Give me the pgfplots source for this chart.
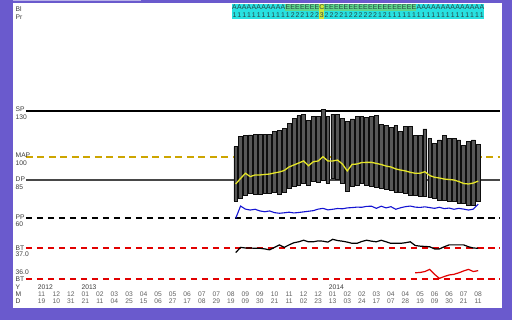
\documentclass[border=0pt]{standalone}
\usepackage{pgfplots}
\pgfplotsset{compat=1.18}
\usepackage{pgfplotstable}
\usepackage{fontspec}
\setmainfont{Liberation Sans}
\definecolor{frame}{RGB}{106,90,205}
\definecolor{frametop}{RGB}{185,178,232}
\definecolor{cellA}{RGB}{40,225,225}
\definecolor{cellE}{RGB}{95,215,140}
\definecolor{cellC}{RGB}{205,230,60}
\definecolor{mapgold}{RGB}{205,165,0}
\definecolor{mapline}{RGB}{228,228,40}
\definecolor{ppblue}{RGB}{20,20,210}
\definecolor{btred}{RGB}{225,0,0}
\definecolor{lbl}{RGB}{60,60,60}
\definecolor{celltxt}{RGB}{40,70,70}

\pgfplotstableread{
x low high
40 71.3 106.7
41 73.1 113.2
42 74.8 113.9
43 76.3 114.4
44 75.7 114.8
45 75.7 114.8
46 76.3 114.8
47 76.3 114.8
48 77.0 116.5
49 75.7 117.6
50 77.0 118.7
51 79.6 122.0
52 80.6 125.2
53 81.7 126.9
54 82.8 127.9
55 81.7 124.1
56 84.3 126.3
57 83.5 126.3
58 85.0 131.3
59 82.8 126.3
60 86.1 127.9
61 85.5 127.9
62 82.8 125.2
63 77.8 123.0
64 80.6 124.8
65 81.7 126.3
66 82.8 126.3
67 81.5 125.6
68 81.0 126.3
69 80.0 126.9
70 79.6 121.3
71 79.0 120.4
72 78.0 119.1
73 77.0 120.4
74 77.0 116.5
75 76.3 119.8
76 75.2 119.8
77 75.2 113.9
78 74.1 113.9
79 74.1 118.3
80 73.5 112.2
81 73.1 108.9
82 72.0 111.1
83 72.0 113.9
84 71.3 112.2
85 70.8 112.2
86 70.0 111.1
87 70.0 107.8
88 68.7 110.4
89 68.7 111.1
90 70.8 108.3
}\bars

\pgfplotstableread{
x map pp bt
40 82.4 60.0 36.85
41 86.0 68.0 37.02
42 89.4 66.0 37.00
43 87.2 65.4 37.00
44 88.3 65.9 36.99
45 88.3 64.8 36.99
46 88.6 64.3 36.97
47 88.9 64.8 36.94
48 89.6 63.7 37.02
49 90.2 63.3 37.10
50 91.2 63.6 37.02
51 93.5 64.0 37.10
52 94.8 63.5 37.17
53 96.1 63.8 37.20
54 97.4 64.2 37.25
55 94.3 64.6 37.20
56 96.9 65.0 37.20
57 97.4 66.0 37.23
58 100.2 66.5 37.22
59 97.4 65.5 37.19
60 97.4 65.9 37.28
61 98.0 66.4 37.24
62 95.4 66.2 37.22
63 90.9 66.8 37.19
64 95.2 67.0 37.15
65 95.4 67.3 37.15
66 96.4 67.2 37.21
67 96.5 67.8 37.25
68 96.5 67.9 37.22
69 95.8 66.5 37.20
70 95.1 67.9 37.25
71 94.1 66.8 37.20
72 93.5 67.6 37.15
73 92.2 65.9 37.15
74 91.5 66.9 37.15
75 90.9 67.6 37.17
76 90.0 68.0 37.20
77 89.4 67.3 37.08
78 89.4 67.1 37.06
79 90.4 67.5 37.05
80 87.9 67.0 37.04
81 86.8 66.5 36.97
82 86.3 67.2 36.97
83 85.6 66.3 37.04
84 85.3 66.7 37.10
85 85.0 65.9 37.10
86 84.0 66.5 37.10
87 82.7 66.0 37.10
88 82.4 65.4 37.04
89 83.0 66.0 37.00
90 84.3 69.3 36.99
}\lines

\pgfplotstableread{
x bt
77 36.20
78 36.21
79 36.24
80 36.31
81 36.15
82 36.02
83 36.08
84 36.13
85 36.15
86 36.20
87 36.26
88 36.31
89 36.24
90 36.27
}\redtemp

\pgfplotsset{
  base/.style={scale only axis, width=512bp, height=320bp, at={(0,0)}, anchor=south west,
    xmin=-8.598, xmax=96.97, hide axis, clip=false},
  bp/.style={base, ymin=-6.33, ymax=202.41},
  tmp/.style={base, ymin=34.677, ymax=45.0},
  cell/.style={only marks, mark=*, mark size=0pt, point meta=explicit symbolic,
    nodes near coords={\pgfplotspointmeta},
    nodes near coords style={anchor=center, inner sep=0pt, minimum width=4.95bp,
      minimum height=7.7bp, fill=#1, text=celltxt, font=\fontsize{6.9bp}{6.9bp}\selectfont}},
}
\begin{document}
\begin{tikzpicture}[x=1bp,y=1bp]
\fill[frame] (0,0) rectangle (512,320);
\fill[frametop] (13,318.5) rectangle (141,320);
\fill[white] (13,11.7) rectangle (502,316.5);

\begin{axis}[bp]
\addplot[black, line width=1.6bp] coordinates {(-3.24,130) (94.5,130)};
\addplot[mapgold, line width=1.4bp, dash pattern=on 7bp off 4.5bp] coordinates {(-3.24,100) (94.5,100)};
\addplot[black!72, line width=1.4bp] coordinates {(-3.24,85) (94.5,85)};
\addplot[black, line width=2bp, dash pattern=on 6.5bp off 4.5bp] coordinates {(-3.24,60) (94.5,60)};
\end{axis}
\begin{axis}[tmp]
\addplot[btred, line width=2bp, dash pattern=on 6.5bp off 4.5bp] coordinates {(-3.24,37) (94.5,37)};
\addplot[btred, line width=2bp, dash pattern=on 6.5bp off 4.5bp] coordinates {(-3.24,36) (94.5,36)};
\end{axis}

\begin{axis}[bp, ybar stacked, bar width=0.78]
\addplot[draw=none, fill=none] table[x=x, y=low] {\bars};
\addplot[fill=black!66, draw=black!95, line width=0.6bp] table[x=x, y expr=\thisrow{high}-\thisrow{low}] {\bars};
\end{axis}

\begin{axis}[bp]
\addplot[mapline, line width=1.3bp] table[x=x, y=map] {\lines};
\addplot[ppblue, line width=1.1bp] table[x=x, y=pp] {\lines};
% row 1
\addplot[cell=cellA] coordinates {
(39.75,197.45)[A] (40.75,197.45)[A] (41.75,197.45)[A] (42.75,197.45)[A] (43.75,197.45)[A]
(44.75,197.45)[A] (45.75,197.45)[A] (46.75,197.45)[A] (47.75,197.45)[A] (48.75,197.45)[A]
(49.75,197.45)[A]
(77.75,197.45)[A] (78.75,197.45)[A] (79.75,197.45)[A] (80.75,197.45)[A] (81.75,197.45)[A]
(82.75,197.45)[A] (83.75,197.45)[A] (84.75,197.45)[A] (85.75,197.45)[A] (86.75,197.45)[A]
(87.75,197.45)[A] (88.75,197.45)[A] (89.75,197.45)[A] (90.75,197.45)[A]};
\addplot[cell=cellE] coordinates {
(50.75,197.45)[E] (51.75,197.45)[E] (52.75,197.45)[E] (53.75,197.45)[E] (54.75,197.45)[E]
(55.75,197.45)[E] (56.75,197.45)[E]
(58.75,197.45)[E] (59.75,197.45)[E] (60.75,197.45)[E] (61.75,197.45)[E] (62.75,197.45)[E]
(63.75,197.45)[E] (64.75,197.45)[E] (65.75,197.45)[E] (66.75,197.45)[E] (67.75,197.45)[E]
(68.75,197.45)[E] (69.75,197.45)[E] (70.75,197.45)[E] (71.75,197.45)[E] (72.75,197.45)[E]
(73.75,197.45)[E] (74.75,197.45)[E] (75.75,197.45)[E] (76.75,197.45)[E]};
\addplot[cell=cellC] coordinates {(57.75,197.45)[C]};
% row 2
\addplot[cell=cellA] coordinates {
(39.75,192.5)[1] (40.75,192.5)[1] (41.75,192.5)[1] (42.75,192.5)[1] (43.75,192.5)[1]
(44.75,192.5)[1] (45.75,192.5)[1] (46.75,192.5)[1] (47.75,192.5)[1] (48.75,192.5)[1]
(49.75,192.5)[1] (50.75,192.5)[1]
(51.75,192.5)[2] (52.75,192.5)[2] (53.75,192.5)[2] (54.75,192.5)[1] (55.75,192.5)[2]
(56.75,192.5)[2]
(58.75,192.5)[2] (59.75,192.5)[2] (60.75,192.5)[2] (61.75,192.5)[2] (62.75,192.5)[1]
(63.75,192.5)[2] (64.75,192.5)[2] (65.75,192.5)[2] (66.75,192.5)[2] (67.75,192.5)[2]
(68.75,192.5)[2] (69.75,192.5)[1] (70.75,192.5)[2]
(71.75,192.5)[1] (72.75,192.5)[1] (73.75,192.5)[1] (74.75,192.5)[1] (75.75,192.5)[1]
(76.75,192.5)[1] (77.75,192.5)[1] (78.75,192.5)[1] (79.75,192.5)[1] (80.75,192.5)[1]
(81.75,192.5)[1] (82.75,192.5)[1] (83.75,192.5)[1] (84.75,192.5)[1] (85.75,192.5)[1]
(86.75,192.5)[1] (87.75,192.5)[1] (88.75,192.5)[1] (89.75,192.5)[1] (90.75,192.5)[1]};
\addplot[cell=cellC] coordinates {(57.75,192.5)[3]};
\end{axis}

\begin{axis}[tmp]
\addplot[black, line width=1.2bp] table[x=x, y=bt] {\lines};
\addplot[btred, line width=1.2bp] table[x=x, y=bt] {\redtemp};
\end{axis}

\begin{scope}[every node/.style={anchor=west, inner sep=0pt, text=lbl, font=\fontsize{6.7bp}{7bp}\selectfont}]
\node at (15.5,311) {Bl};
\node at (15.5,303.3) {Pr};
\node at (15.5,210.7) {SP};
\node at (15.5,202.7) {130};
\node at (15.5,165) {MAP};
\node at (15.5,156.7) {100};
\node at (15.5,141) {DP};
\node at (15.5,133.3) {85};
\node at (15.5,102.7) {PP};
\node at (15.5,95.7) {60};
\node at (15.5,72.3) {BT};
\node at (15.5,66) {37.0};
\node at (15.5,48.3) {36.0};
\node at (15.5,41) {BT};
\node at (15.5,33) {Y};
\node at (15.5,26) {M};
\node at (15.5,19) {D};
\node at (37.7,33) {2012};
\node at (81.35,33) {2013};
\node at (328.7,33) {2014};
\end{scope}
\begin{scope}[every node/.style={anchor=center, inner sep=0pt, text=black!62, font=\fontsize{6.7bp}{7bp}\selectfont}]
\foreach \i/\m/\d in {0/11/19,1/12/10,2/12/31,3/01/21,4/02/11,5/03/04,6/03/25,7/04/15,
  8/05/06,9/05/27,10/06/17,11/07/08,12/07/29,13/08/19,14/09/09,15/09/30,16/10/21,
  17/11/11,18/12/02,19/12/23,20/01/13,21/02/03,22/02/24,23/03/17,24/04/07,25/04/28,
  26/05/19,27/06/09,28/06/30,29/07/21,30/08/11}{
  \node at ({41.7+14.55*\i},26) {\m};
  \node at ({41.7+14.55*\i},19) {\d};
}
\end{scope}
\pgfresetboundingbox
\useasboundingbox (0,0) rectangle (512,320);
\end{tikzpicture}
\end{document}
